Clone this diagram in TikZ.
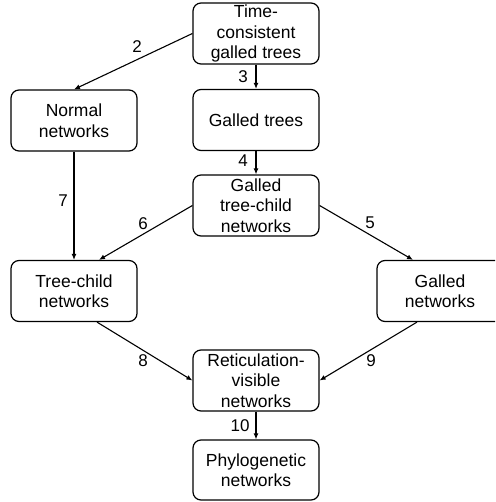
\documentclass[tikz,border=0pt]{standalone}
\usepackage{fontspec}
\setmainfont{Liberation Sans}
\usetikzlibrary{arrows.meta}
\begin{document}
\begin{tikzpicture}[x=1pt,y=-1pt,
  box/.style={draw, line width=1.2pt, rounded corners=8pt, minimum width=126pt, minimum height=61pt, inner sep=0pt, align=center, font=\fontsize{17.5}{20.5}\selectfont},
  conn/.style={line width=1.1pt, -{Latex[length=6pt,width=5pt]}},
  lbl/.style={font=\fontsize{17}{20}\selectfont, inner sep=0pt}]
\useasboundingbox (0,0) rectangle (495,502);
\clip (0,0) rectangle (495,502);
\node[box] (time) at (256,33.5) {Time-\\consistent\\galled trees};
\node[box] (gt) at (256,120) {Galled trees};
\node[box] (normal) at (74,120.5) {Normal\\networks};
\node[box] (gtc) at (256,205.5) {Galled\\tree-child\\networks};
\node[box] (tc) at (74,291) {Tree-child\\networks};
\node[box] (gn) at (440,291) {Galled\\networks};
\node[box] (rv) at (256,380.5) {Reticulation-\\visible\\networks};
\node[box, minimum height=60pt] (ph) at (256,470) {Phylogenetic\\networks};
\draw[conn] (time.west) -- (normal.north);
\draw[conn] (time.south) -- (gt.north);
\draw[conn] (gt.south) -- (gtc.north);
\draw[conn] (gtc.east) -- ([xshift=-27pt]gn.north);
\draw[conn] (gtc.west) -- ([xshift=25pt]tc.north);
\draw[conn] (normal.south) -- (tc.north);
\draw[conn] ([xshift=23pt]tc.south) -- (rv.west);
\draw[conn] ([xshift=-23pt]gn.south) -- (rv.east);
\draw[conn] (rv.south) -- (ph.north);
\node[lbl] (l2) at (137,47) {2};
\node[lbl] (l3) at (243,77) {3};
\node[lbl] (l4) at (243,161) {4};
\node[lbl] (l5) at (370,223) {5};
\node[lbl] (l6) at (143,224) {6};
\node[lbl] (l7) at (63,201) {7};
\node[lbl] (l8) at (143,361) {8};
\node[lbl] (l9) at (371,361) {9};
\node[lbl] (l10) at (240,426) {10};
\end{tikzpicture}
\end{document}
